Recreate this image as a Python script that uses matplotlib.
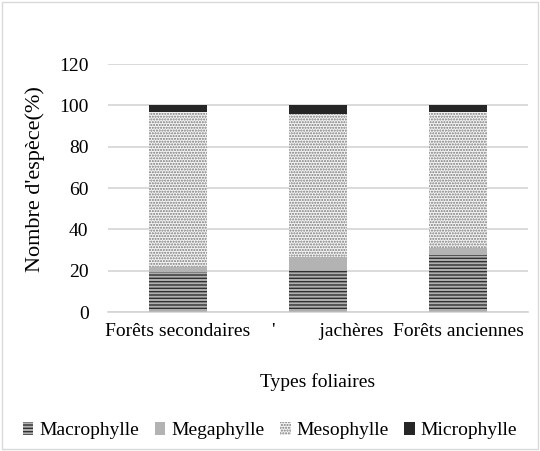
import matplotlib.pyplot as plt
import matplotlib.patches as mpatches
import matplotlib.transforms as mtransforms
import numpy as np

plt.rcParams['font.family'] = ['Liberation Serif', 'DejaVu Serif']
plt.rcParams['hatch.linewidth'] = 1.0

categories = ["Forêts secondaires", "'         jachères", "Forêts anciennes"]
series_names = ["Macrophylle", "Megaphylle", "Mesophylle", "Microphylle"]
macrophylle = [19.5, 20.6, 27.5]
megaphylle = [2.5, 6.0, 3.3]
mesophylle = [74.7, 69.4, 66.0]
microphylle = [3.3, 4.0, 3.2]
yticks = [0, 20, 40, 60, 80, 100, 120]

styles = [
    dict(facecolor='#b0b0b0', edgecolor='#303030', hatch='-----'),
    dict(facecolor='#b3b3b3', edgecolor='#b3b3b3', hatch=None),
    dict(facecolor='#f4f4f4', edgecolor='#7a7a7a', hatch='......'),
    dict(facecolor='#262626', edgecolor='#262626', hatch=None),
]

fig = plt.figure(figsize=(5.4, 4.51), dpi=100)
ax = fig.add_axes([0.2, 0.308, 0.778, 0.55])

x = np.arange(len(categories))
bottom = np.zeros(len(categories))
for vals, st in zip([macrophylle, megaphylle, mesophylle, microphylle], styles):
    ax.bar(x, vals, width=0.41, bottom=bottom, linewidth=0, **st)
    bottom += np.array(vals)

ax.set_xlim(-0.5, 2.5)
ax.set_ylim(0, 120)
ax.set_yticks(yticks)
ax.set_yticklabels([str(t) for t in yticks], fontsize=14)
ax.set_xticks(x)
ax.set_xticklabels(categories, fontsize=14)
ax.tick_params(axis='y', length=0, pad=14)
ax.tick_params(axis='x', length=0, pad=8)
ax.yaxis.grid(True, color='#d4d4d4', linewidth=1.2)
ax.set_axisbelow(True)
for s in ['top', 'right', 'left']:
    ax.spines[s].set_visible(False)
ax.spines['bottom'].set_color('#d4d4d4')
ax.spines['bottom'].set_linewidth(1.2)

# the middle label sits a little right of its bar in the original
lbl = ax.get_xticklabels()[1]
lbl.set_transform(lbl.get_transform() + mtransforms.ScaledTranslation(0.1, 0, fig.dpi_scale_trans))

ax.set_ylabel("Nombre d'espèce(%)", fontsize=16)
ax.yaxis.set_label_coords(-0.15, 0.536)
ax.set_xlabel("Types foliaires", fontsize=14, labelpad=24)

handles = [mpatches.Patch(label=n, linewidth=0, **st) for n, st in zip(series_names, styles)]
fig.legend(handles=handles, loc='center', bbox_to_anchor=(0.5, 0.045), ncol=4,
           frameon=False, fontsize=14, handlelength=0.55, handleheight=0.6,
           handletextpad=0.3, columnspacing=0.8)

fig.patches.append(mpatches.Rectangle((0.004, 0.004), 0.992, 0.992, transform=fig.transFigure,
                                      fill=False, edgecolor='#d9d9d9', linewidth=1))

fig.savefig('out.png', dpi=100)
